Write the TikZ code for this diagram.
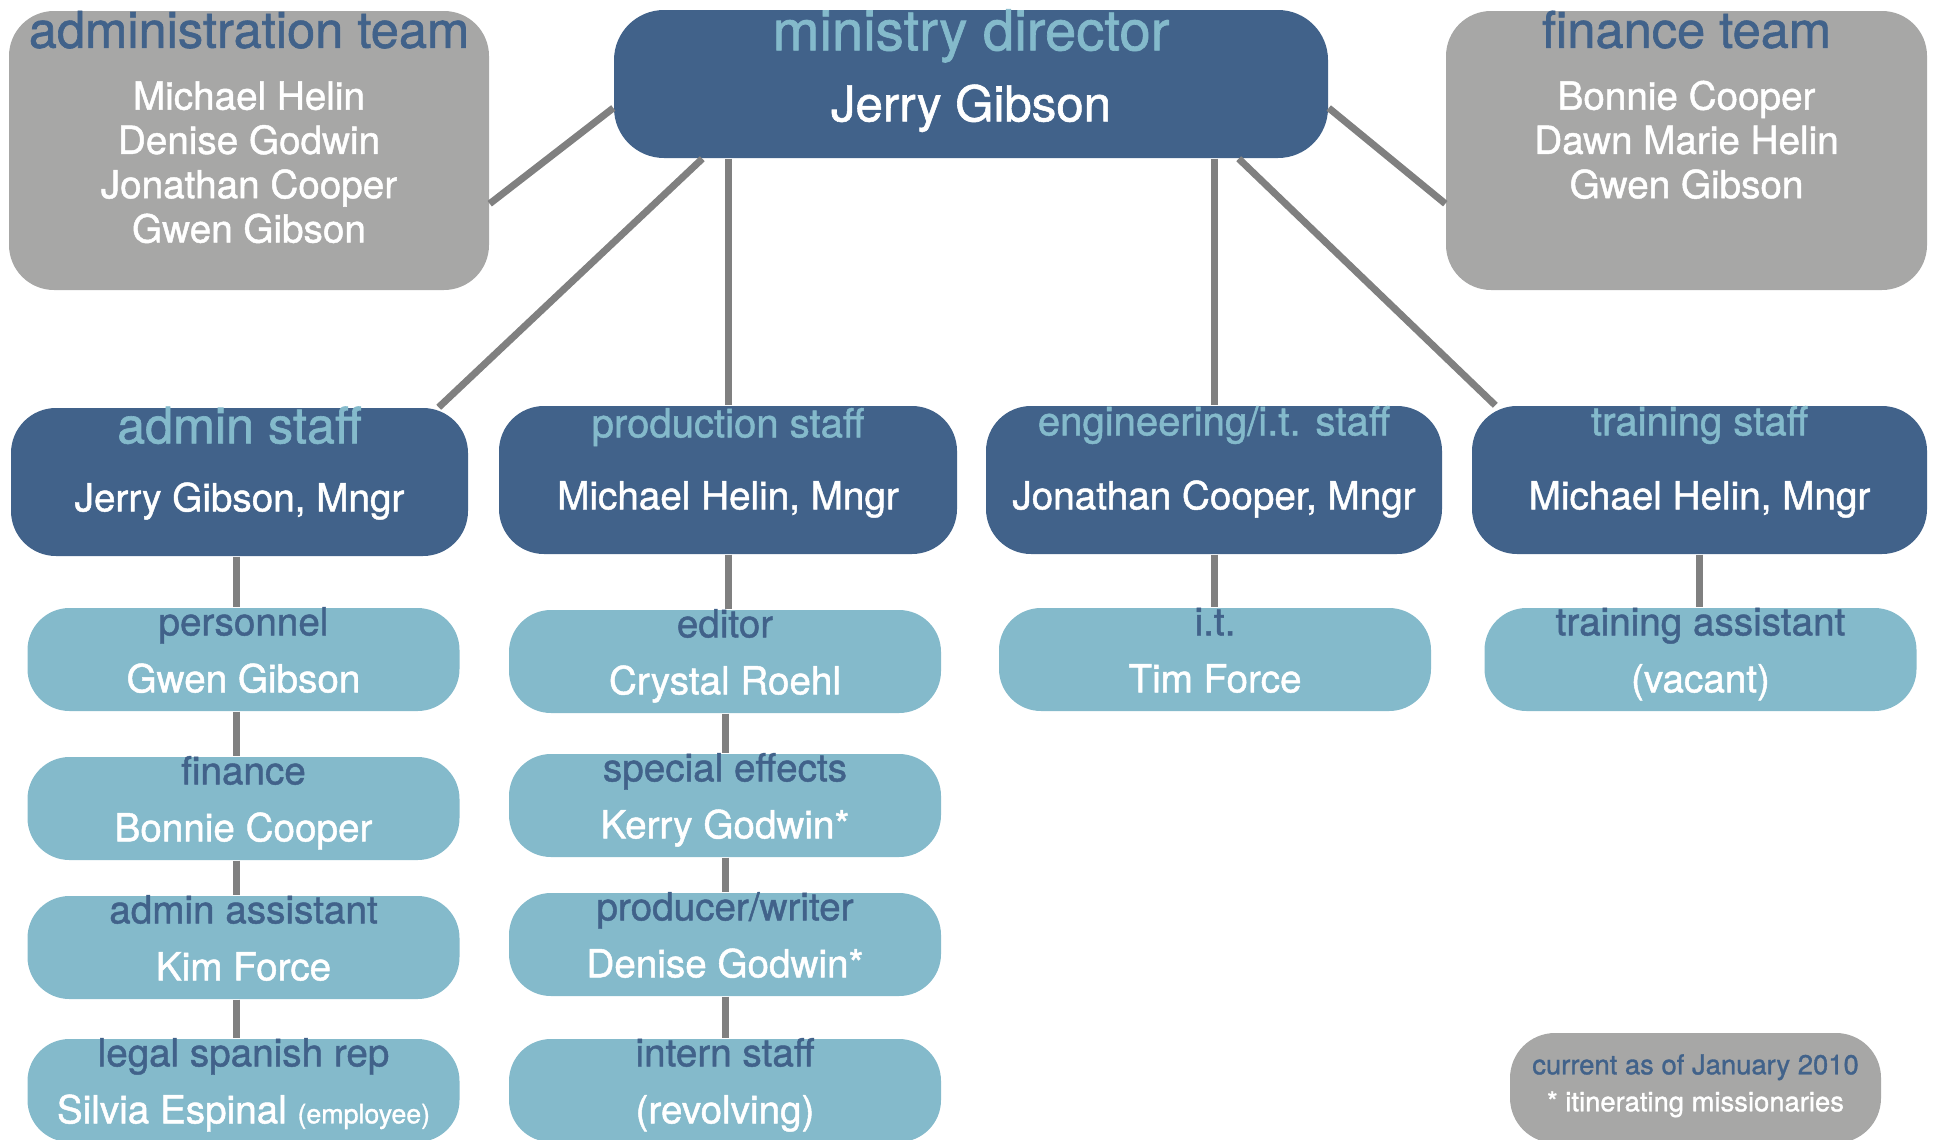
\documentclass[tikz,border=0pt]{standalone}
\usepackage{fontspec}
\setmainfont{TeX Gyre Heros}[FakeBold=1.2]
\usepackage{xcolor}
\usetikzlibrary{calc}
\definecolor{darkblue}{HTML}{41628A}
\definecolor{lightblue}{HTML}{84BACB}
\definecolor{boxgray}{HTML}{A7A7A6}
\definecolor{linegray}{HTML}{808080}

\begin{document}
\begin{tikzpicture}[x=0.1mm, y=-0.1mm,
		graybox/.style={rectangle, rounded corners=4.5mm, fill=boxgray, inner sep=0pt, minimum height=27.9mm},
		darkbox/.style={rectangle, rounded corners=4.5mm, fill=darkblue, inner sep=0pt, minimum height=14.8mm},
		lightbox/.style={rectangle, rounded corners=4.2mm, fill=lightblue, inner sep=0pt, minimum width=43.2mm, minimum height=10.3mm},
		link/.style={draw=linegray, line width=0.7mm},
		txt/.style={anchor=base, inner sep=0pt},
		teamtitle/.style={txt, text=darkblue, font=\fontsize{14.4}{17}\selectfont},
		staffbig/.style={txt, text=lightblue, font=\fontsize{14.3}{17}\selectfont},
		stafftitle/.style={txt, text=lightblue, font=\fontsize{11.4}{14}\selectfont},
		jobtitle/.style={txt, text=darkblue, font=\fontsize{11}{13}\selectfont},
		person/.style={txt, text=white, font=\fontsize{11}{13}\selectfont}]
		\useasboundingbox (0,0) rectangle (1933,1139);
		\clip (0,0) rectangle (1933,1139);
		%
		%administration team
		\node[graybox, minimum width=48mm] (adtm) at (249,150.5) {};
		\node[teamtitle] (adtmT) at ($(adtm.north)+(0,37.5)$) {administration team};
		\foreach \nm [count=\i] in {Michael Helin, Denise Godwin, Jonathan Cooper, Gwen Gibson}
			\node[person] (adtm\i) at ($(adtm.north)+(0,55+44.3*\i)$) {\nm};
		%
		%finance team
		\node[graybox, minimum width=48.1mm] (fntm) at (1686.5,150.5) {};
		\node[teamtitle] (fntmT) at ($(fntm.north)+(0,37.5)$) {finance team};
		\foreach \nm [count=\i] in {Bonnie Cooper, Dawn Marie Helin, Gwen Gibson}
			\node[person] (fntm\i) at ($(fntm.north)+(0,55+44.3*\i)$) {\nm};
		%
		%ministry director
		\node[darkbox, rounded corners=5mm, minimum width=71.4mm] (md) at (971,84) {};
		\node[txt, text=lightblue, font=\fontsize{16}{19}\selectfont] (mdT) at ($(md.north)+(0,41)$) {ministry director};
		\node[txt, text=white, font=\fontsize{14}{17}\selectfont] (mdN) at ($(md.north)+(0,112)$) {Jerry Gibson};
		%
		%admin staff
		\node[darkbox, minimum width=45.7mm] (adst) at (239.5,482) {};
		\node[staffbig] (adstT) at ($(adst.north)+(0,36)$) {admin staff};
		\node[person] (adstN) at ($(adst.north)+(0,104)$) {Jerry Gibson, Mngr};
		%
		%production staff
		\node[darkbox, minimum width=45.8mm] (prst) at (728,480) {};
		\node[stafftitle] (prstT) at ($(prst.north)+(0,32)$) {production staff};
		\node[person] (prstN) at ($(prst.north)+(0,104)$) {Michael Helin, Mngr};
		%
		%engineering staff
		\node[darkbox, minimum width=45.6mm] (enst) at (1214,480) {};
		\node[stafftitle] (enstT) at ($(enst.north)+(0,30)$) {engineering/i.t. staff};
		\node[person] (enstN) at ($(enst.north)+(0,104)$) {Jonathan Cooper, Mngr};
		%
		%training staff
		\node[darkbox, minimum width=45.5mm] (trst) at (1699.5,480) {};
		\node[stafftitle] (trstT) at ($(trst.north)+(0,30)$) {training staff};
		\node[person] (trstN) at ($(trst.north)+(0,104)$) {Michael Helin, Mngr};
		%
		%personnel
		\node[lightbox] (pers) at (243.5,659.5) {};
		\node[jobtitle] (persT) at ($(pers.north)+(0,28)$) {personnel};
		\node[person] (persN) at ($(pers.north)+(0,85)$) {Gwen Gibson};
		%
		%finance
		\node[lightbox] (fin) at (243.5,808.5) {};
		\node[jobtitle] (finT) at ($(fin.north)+(0,28)$) {finance};
		\node[person] (finN) at ($(fin.north)+(0,85)$) {Bonnie Cooper};
		%
		%admin assistant
		\node[lightbox] (asst) at (243.5,947.5) {};
		\node[jobtitle] (asstT) at ($(asst.north)+(0,28)$) {admin assistant};
		\node[person] (asstN) at ($(asst.north)+(0,85)$) {Kim Force};
		%
		%legal spanish rep
		\node[lightbox] (legal) at (243.5,1090.5) {};
		\node[jobtitle] (legalT) at ($(legal.north)+(0,28)$) {legal spanish rep};
		\node[person] (legalN) at ($(legal.north)+(0,85)$) {Silvia Espinal {\fontsize{7.6}{9}\selectfont (employee)}};
		%
		%editor
		\node[lightbox] (edit) at (725,661.5) {};
		\node[jobtitle] (editT) at ($(edit.north)+(0,28)$) {editor};
		\node[person] (editN) at ($(edit.north)+(0,85)$) {Crystal Roehl};
		%
		%special effects
		\node[lightbox] (sfx) at (725,805.5) {};
		\node[jobtitle] (sfxT) at ($(sfx.north)+(0,28)$) {special effects};
		\node[person] (sfxN) at ($(sfx.north)+(0,85)$) {Kerry Godwin*};
		%
		%producer/writer
		\node[lightbox] (prod) at (725,944.5) {};
		\node[jobtitle] (prodT) at ($(prod.north)+(0,28)$) {producer/writer};
		\node[person] (prodN) at ($(prod.north)+(0,85)$) {Denise Godwin*};
		%
		%intern staff
		\node[lightbox] (intern) at (725,1090.5) {};
		\node[jobtitle] (internT) at ($(intern.north)+(0,28)$) {intern staff};
		\node[person] (internN) at ($(intern.north)+(0,85)$) {(revolving)};
		%
		%i.t.
		\node[lightbox] (it) at (1215,659.5) {};
		\node[jobtitle] (itT) at ($(it.north)+(0,28)$) {i.t.};
		\node[person] (itN) at ($(it.north)+(0,85)$) {Tim Force};
		%
		%training assistant
		\node[lightbox] (trai) at (1700.5,659.5) {};
		\node[jobtitle] (traiT) at ($(trai.north)+(0,28)$) {training assistant};
		\node[person] (traiN) at ($(trai.north)+(0,85)$) {(vacant)};
		%
		%note
		\node[rectangle, rounded corners=4.5mm, fill=boxgray, inner sep=0pt, minimum width=37.1mm, minimum height=11mm] (note) at (1695.5,1088) {};
		\node[txt, text=darkblue, font=\fontsize{7.8}{9}\selectfont] (noteA) at ($(note.north)+(0,42)$) {current as of January 2010};
		\node[txt, text=white, font=\fontsize{7.8}{9}\selectfont] (noteB) at ($(note.north)+(0,79)$) {* itinerating missionaries};
		%
		%Linien Direktor
		\draw[link] ($(adtm.south east)+(0,-87)$) -- ($(md.west)+(0,24)$);
		\draw[link] ($(fntm.south west)+(0,-87)$) -- ($(md.east)+(0,24)$);
		\draw[link] ($(md.south west)+(89,0)$) -- ($(adst.north east)+(-30,0)$);
		\draw[link] ($(md.south east)+(-90,0)$) -- ($(trst.north west)+(24,0)$);
		\draw[link] (md.south -| prst.north) -- (prst.north);
		\draw[link] (md.south -| enst.north) -- (enst.north);
		%
		%Linien admin
		\draw[link] ([xshift=-0.35mm]adst.south) -- ([xshift=-0.35mm]adst.south |- pers.north);
		\draw[link] ([xshift=-0.75mm]pers.south) -- ([xshift=-0.75mm]fin.north);
		\draw[link] ([xshift=-0.75mm]fin.south) -- ([xshift=-0.75mm]asst.north);
		\draw[link] ([xshift=-0.75mm]asst.south) -- ([xshift=-0.75mm]legal.north);
		%
		%Linien production
		\draw[link] (prst.south) -- (prst.south |- edit.north);
		\draw[link] (edit.south) -- (sfx.north);
		\draw[link] (sfx.south) -- (prod.north);
		\draw[link] (prod.south) -- (intern.north);
		%
		%Linien it, training
		\draw[link] (enst.south) -- (enst.south |- it.north);
		\draw[link] (trst.south) -- (trst.south |- trai.north);
	\end{tikzpicture}
\end{document}
